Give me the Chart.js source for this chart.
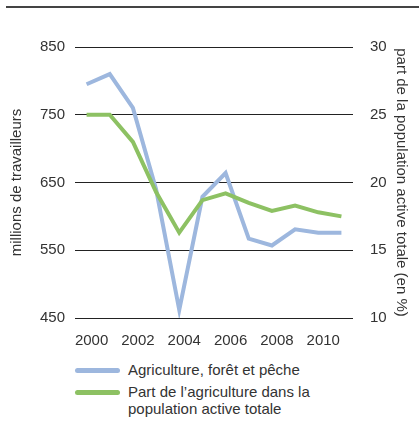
<!DOCTYPE html>
<html lang="fr">
<head>
    <meta charset="UTF-8">
    <title>Travailleurs agricoles</title>
    <style>
        body {
            margin: 0;
            background: #fff;
            font-family: 'Liberation Sans', Arial, sans-serif;
            color: #333;
        }
        .wrap {
            position: relative;
            width: 419px;
            height: 425px;
            overflow: hidden;
        }
        .topline {
            position: absolute;
            left: 6px;
            right: 0;
            top: 6px;
            height: 2px;
            background: #444;
        }
        canvas {
            position: absolute;
            left: 0;
            top: 0;
        }
        .legend {
            position: absolute;
            left: 75px;
            top: 361px;
            font-size: 15px;
            line-height: 17px;
            color: #333;
        }
        .item {
            position: relative;
            padding-left: 53px;
            margin-bottom: 5px;
        }
        .swatch {
            position: absolute;
            left: 0;
            top: 7px;
            width: 45px;
            height: 5px;
            border-radius: 3px;
        }
    </style>
</head>
<body>
<div class="wrap">
    <div class="topline"></div>
    <canvas id="chart" width="419" height="350"></canvas>
    <div class="legend" id="legend"></div>
</div>
<script src="https://cdn.jsdelivr.net/npm/chart.js"></script>
<script>
    const years = ['2000', '2001', '2002', '2003', '2004', '2005', '2006', '2007', '2008', '2009', '2010', '2011'];
    // millions de travailleurs (axe gauche)
    const workers = [795, 810, 760, 640, 462, 629, 664, 567, 557, 581, 576, 576];
    // part en % (axe droit)
    const share = [25.0, 25.0, 23.0, 19.3, 16.3, 18.7, 19.2, 18.5, 17.9, 18.3, 17.8, 17.5];
    const leftTicks = [450, 550, 650, 750, 850];
    const rightTicks = [10, 15, 20, 25, 30];

    const blue = '#9db7de';
    const green = '#8dc163';
    const labelWorkers = 'Agriculture, forêt et pêche';
    const labelShare = ['Part de l\u2019agriculture dans la', 'population active totale'];

    const font = { family: "'Liberation Sans', Arial, sans-serif", size: 15 };

    new Chart(document.getElementById('chart'), {
        type: 'line',
        data: {
            labels: years,
            datasets: [
                {
                    label: labelWorkers,
                    data: workers,
                    borderColor: blue,
                    borderWidth: 4,
                    pointRadius: 0,
                    yAxisID: 'y',
                    order: 2
                },
                {
                    label: labelShare.join(' '),
                    data: share,
                    borderColor: green,
                    borderWidth: 4,
                    pointRadius: 0,
                    yAxisID: 'y1',
                    order: 1
                }
            ]
        },
        options: {
            responsive: false,
            animation: false,
            layout: { padding: { top: 47, left: 0, right: 0, bottom: 0 } },
            plugins: {
                legend: { display: false },
                tooltip: { enabled: false }
            },
            scales: {
                x: {
                    offset: true,
                    grid: { display: false },
                    border: { display: false },
                    ticks: {
                        autoSkip: false,
                        maxRotation: 0,
                        padding: 6,
                        labelOffset: 5,
                        color: '#333',
                        font: font,
                        callback: function(v, i) { return i % 2 === 0 ? years[i] : ''; }
                    },
                    afterFit: function(s) { s.height = 32; }
                },
                y: {
                    position: 'left',
                    min: 450,
                    max: 850,
                    afterBuildTicks: function(s) { s.ticks = leftTicks.map(v => ({ value: v })); },
                    grid: { color: '#222', lineWidth: 1, drawTicks: false },
                    border: { display: false },
                    ticks: { padding: 10, color: '#333', font: font },
                    title: {
                        display: true,
                        text: 'millions de travailleurs',
                        color: '#333',
                        font: font,
                        padding: { top: 8, bottom: 0 }
                    },
                    afterFit: function(s) { s.width = 75; }
                },
                y1: {
                    position: 'right',
                    min: 10,
                    max: 30,
                    afterBuildTicks: function(s) { s.ticks = rightTicks.map(v => ({ value: v })); },
                    grid: { display: false },
                    border: { display: false },
                    ticks: { padding: 9, color: '#333', font: font },
                    title: {
                        display: true,
                        text: 'part de la population active totale (en %)',
                        color: '#333',
                        font: font,
                        padding: { top: 9, bottom: 0 }
                    },
                    afterFit: function(s) { s.width = 66; }
                }
            }
        }
    });

    // légende en HTML, deuxième libellé sur deux lignes
    const legend = document.getElementById('legend');
    [[blue, [labelWorkers]], [green, labelShare]].forEach(function(entry) {
        const div = document.createElement('div');
        div.className = 'item';
        div.innerHTML = '<span class="swatch" style="background:' + entry[0] + '"></span>' + entry[1].join('<br>');
        legend.appendChild(div);
    });
</script>
</body>
</html>
